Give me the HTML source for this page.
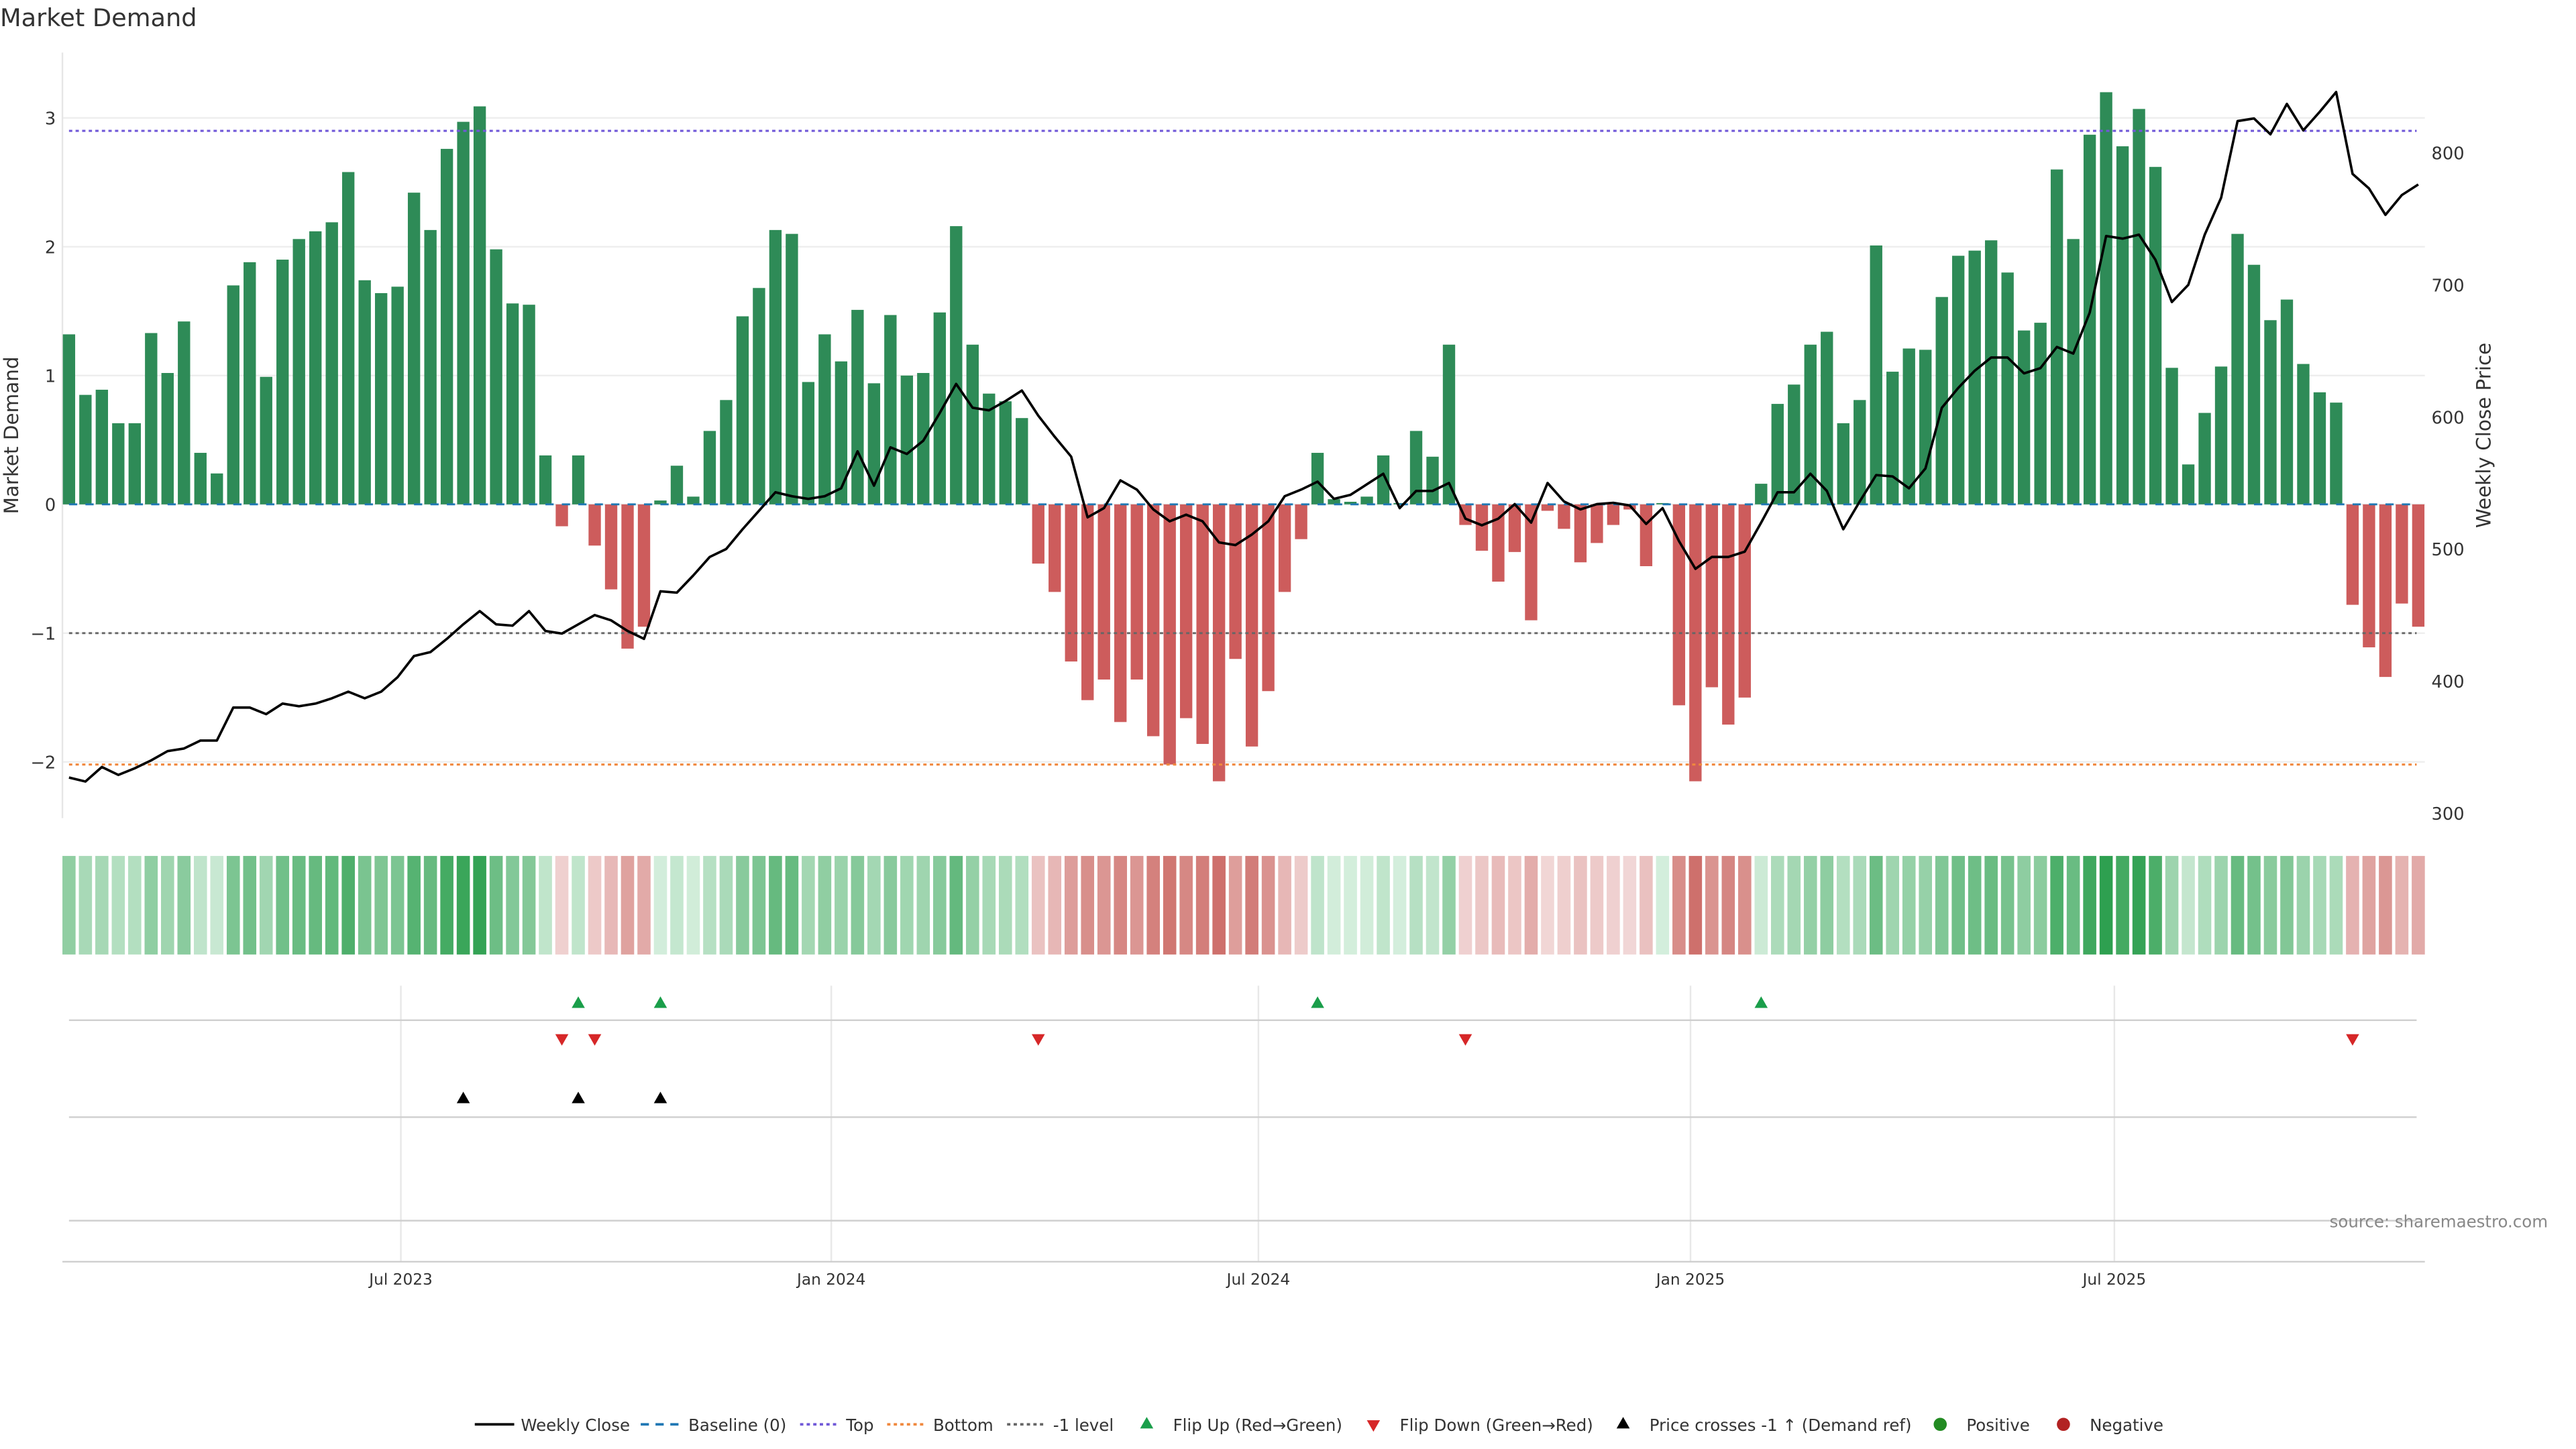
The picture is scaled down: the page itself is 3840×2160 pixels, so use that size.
<!DOCTYPE html>
<html><head><meta charset="utf-8"><style>
html,body{margin:0;padding:0;background:#fff;}
svg{display:block;font-family:"DejaVu Sans","Liberation Sans",sans-serif;}
</style></head><body>
<svg id="chart" width="3840" height="2160" viewBox="0 0 1568 882" preserveAspectRatio="none" xmlns="http://www.w3.org/2000/svg">
<text x="0" y="16" font-size="15" fill="#333">Market Demand</text>
<g id="grid"></g><g id="heat"></g><g id="bars"></g><g id="lines"></g><g id="events"></g><g id="axes"></g><g id="legend"></g>
<text x="1418" y="747" font-size="10" fill="#888">source: sharemaestro.com</text>
</svg>
<script>
const demand=[1.32,0.85,0.89,0.63,0.63,1.33,1.02,1.42,0.40,0.24,1.70,1.88,0.99,1.90,2.06,2.12,2.19,2.58,1.74,1.64,1.69,2.42,2.13,2.76,2.97,3.09,1.98,1.56,1.55,0.38,-0.17,0.38,-0.32,-0.66,-1.12,-0.95,0.03,0.30,0.06,0.57,0.81,1.46,1.68,2.13,2.10,0.95,1.32,1.11,1.51,0.94,1.47,1.00,1.02,1.49,2.16,1.24,0.86,0.80,0.67,-0.46,-0.68,-1.22,-1.52,-1.36,-1.69,-1.36,-1.80,-2.02,-1.66,-1.86,-2.15,-1.20,-1.88,-1.45,-0.68,-0.27,0.40,0.04,0.02,0.06,0.38,0.01,0.57,0.37,1.24,-0.16,-0.36,-0.60,-0.37,-0.90,-0.05,-0.19,-0.45,-0.30,-0.16,-0.04,-0.48,0.01,-1.56,-2.15,-1.42,-1.71,-1.50,0.16,0.78,0.93,1.24,1.34,0.63,0.81,2.01,1.03,1.21,1.20,1.61,1.93,1.97,2.05,1.80,1.35,1.41,2.60,2.06,2.87,3.20,2.78,3.07,2.62,1.06,0.31,0.71,1.07,2.10,1.86,1.43,1.59,1.09,0.87,0.79,-0.78,-1.11,-1.34,-0.77,-0.95];
const price=[327,324,335,329,334,340,347,349,355,355,380,380,375,383,381,383,387,392,387,392,403,419,422,432,443,453,443,442,453,438,436,443,450,446,438,432,468,467,480,494,500,515,529,543,540,538,540,546,574,548,577,572,582,603,625,607,605,612,620,601,585,570,524,531,552,545,530,521,526,521,505,503,511,521,540,545,551,538,541,549,557,531,544,544,550,523,518,523,534,520,550,536,530,534,535,533,519,531,506,485,494,494,498,520,543,543,557,544,515,536,556,555,546,561,607,622,635,645,645,633,637,653,648,679,737,735,738,719,687,700,738,766,824,826,814,837,817,831,846,784,773,753,768,776];
const leftTicks=[3,2,1,0,-1,-2];
const rightTicks=[800,700,600,500,400,300];
const dateTickPos=[20.2,46.4,72.4,98.7,124.5];
const dateTickLabels=["Jul 2023","Jan 2024","Jul 2024","Jan 2025","Jul 2025"];
const levelTop=[2.9], levelBottom=[-2.02], levelMinus1=[-1];
const flipUp=[31,36,76,103];
const flipDown=[30,32,59,85,139];
const priceCross=[24,31,36];

const NS="http://www.w3.org/2000/svg";
const X0=38,X1=1476,Y0=32,Y1=498;
const xOf=i=>42+i*10.0;
const yL=v=>307-v*78.4;
const yR=p=>495-(p-300)*0.804;
function mk(parent,tag,attrs,name){const e=document.createElementNS(NS,tag);for(const k in attrs)e.setAttribute(k,attrs[k]);


document.getElementById(parent).appendChild(e);return e;}
leftTicks.forEach(t=>{mk('grid','line',{x1:X0,x2:X1,y1:yL(t),y2:yL(t),stroke:'#eeeeee','stroke-width':1},'y-gridline');
 const tx=mk('axes','text',{x:34,y:yL(t)+4,'font-size':10.5,fill:'#333','text-anchor':'end'},'y-tick-label');tx.textContent=t<0?'\u2212'+(-t):String(t);});
rightTicks.forEach(t=>{const tx=mk('axes','text',{x:1480,y:yR(t)+4,'font-size':10.5,fill:'#333'},'y2-tick-label');tx.textContent=t;});
mk('grid','line',{x1:X0,x2:X0,y1:Y0,y2:Y1,stroke:'#e6e6e6','stroke-width':1},'left-spine');
dateTickPos.forEach((d,k)=>{const x=xOf(d);
 mk('grid','line',{x1:x,x2:x,y1:600,y2:768,stroke:'#e8e8e8','stroke-width':1},'x-gridline');
 const tx=mk('axes','text',{x:x,y:782,'font-size':9.5,fill:'#333','text-anchor':'middle'},'x-tick-label');tx.textContent=dateTickLabels[k];});
let t1=mk('axes','text',{x:0,y:0,'font-size':12,fill:'#333','text-anchor':'middle',transform:'translate(11,265) rotate(-90)'},'y-axis-title');t1.textContent='Market Demand';
let t2=mk('axes','text',{x:0,y:0,'font-size':12,fill:'#333','text-anchor':'middle',transform:'translate(1516,265) rotate(-90)'},'y2-axis-title');t2.textContent='Weekly Close Price';
[621,680,743].forEach(y=>mk('grid','line',{x1:42,x2:1471,y1:y,y2:y,stroke:'#cfcfcf','stroke-width':1},'event-row-line'));
mk('axes','line',{x1:X0,x2:X1,y1:768,y2:768,stroke:'#cfcfcf','stroke-width':1},'x-axis-line');
demand.forEach((v,i)=>{let a=Math.min(1,Math.abs(v)/3.2),c;
 if(v>=0){c=`rgb(${Math.round(212-a*(212-46))},${Math.round(238-a*(238-160))},${Math.round(220-a*(220-80))})`;}
 else{a=Math.min(1,Math.abs(v)/2.2);c=`rgb(${Math.round(242-a*(242-205))},${Math.round(216-a*(216-110))},${Math.round(216-a*(216-105))})`;}
 mk('heat','rect',{x:xOf(i)-4,y:521,width:8,height:60,fill:c},'heat-cell');});
demand.forEach((v,i)=>{const y=Math.min(yL(v),yL(0)),h=Math.abs(yL(v)-yL(0));
 mk('bars','rect',{x:xOf(i)-3.75,y:y,width:7.5,height:Math.max(h,0.6),fill:v>=0?'#2e8b57':'#cd5c5c'},'demand-bar');});
mk('lines','line',{x1:42,x2:1471,y1:yL(0),y2:yL(0),stroke:'#1f77b4','stroke-width':1.2,'stroke-dasharray':'5 5'},'baseline-zero');
mk('lines','line',{x1:42,x2:1471,y1:yL(levelTop[0]),y2:yL(levelTop[0]),stroke:'#7058d8','stroke-width':1.3,'stroke-dasharray':'2 2'},'top-level-line');
mk('lines','line',{x1:42,x2:1471,y1:yL(levelMinus1[0]),y2:yL(levelMinus1[0]),stroke:'#666','stroke-width':1.2,'stroke-dasharray':'2 2'},'minus-one-level-line');
mk('lines','line',{x1:42,x2:1471,y1:yL(levelBottom[0]),y2:yL(levelBottom[0]),stroke:'#f0883e','stroke-width':1.3,'stroke-dasharray':'2 2'},'bottom-level-line');
mk('lines','polyline',{points:price.map((p,i)=>xOf(i)+','+yR(p)).join(' '),fill:'none',stroke:'#000','stroke-width':1.5,'stroke-linejoin':'round'},'weekly-close-line');
const tri=(x,y,up)=>up?`${x-4},${y+3.5} ${x+4},${y+3.5} ${x},${y-3.5}`:`${x-4},${y-3.5} ${x+4},${y-3.5} ${x},${y+3.5}`;
flipUp.forEach(i=>mk('events','polygon',{points:tri(xOf(i),610,true),fill:'#1a9e4a'},'flip-up-marker'));
flipDown.forEach(i=>mk('events','polygon',{points:tri(xOf(i),633,false),fill:'#d62728'},'flip-down-marker'));
priceCross.forEach(i=>mk('events','polygon',{points:tri(xOf(i),668,true),fill:'#000'},'price-cross-marker'));
const L=867;
mk('legend','line',{x1:289,x2:313,y1:L,y2:L,stroke:'#000','stroke-width':1.5},'legend-weekly-close-swatch');
mk('legend','line',{x1:390,x2:414,y1:L,y2:L,stroke:'#1f77b4','stroke-width':1.5,'stroke-dasharray':'5 4'},'legend-baseline-swatch');
mk('legend','line',{x1:487,x2:510,y1:L,y2:L,stroke:'#7058d8','stroke-width':1.5,'stroke-dasharray':'2 2'},'legend-top-swatch');
mk('legend','line',{x1:540,x2:563,y1:L,y2:L,stroke:'#f0883e','stroke-width':1.5,'stroke-dasharray':'2 2'},'legend-bottom-swatch');
mk('legend','line',{x1:613,x2:636,y1:L,y2:L,stroke:'#666','stroke-width':1.5,'stroke-dasharray':'2 2'},'legend-minus-one-swatch');
mk('legend','polygon',{points:tri(698,L-1,true),fill:'#1a9e4a'},'legend-flip-up-swatch');
mk('legend','polygon',{points:tri(836,L+1,false),fill:'#d62728'},'legend-flip-down-swatch');
mk('legend','polygon',{points:tri(988,L-1,true),fill:'#000'},'legend-price-cross-swatch');
mk('legend','circle',{cx:1181,cy:L,r:4,fill:'#228b22'},'legend-positive-swatch');
mk('legend','circle',{cx:1256,cy:L,r:4,fill:'#b22222'},'legend-negative-swatch');
[[317,'Weekly Close','legend-weekly-close'],[419,'Baseline (0)','legend-baseline'],[515,'Top','legend-top'],[568,'Bottom','legend-bottom'],[641,'-1 level','legend-minus-one'],[714,'Flip Up (Red\u2192Green)','legend-flip-up'],[852,'Flip Down (Green\u2192Red)','legend-flip-down'],[1004,'Price crosses -1 \u2191 (Demand ref)','legend-price-cross'],[1197,'Positive','legend-positive'],[1272,'Negative','legend-negative']].forEach(a=>{
 const t=mk('legend','text',{x:a[0],y:L+4,'font-size':10,fill:'#333'},a[2]);t.textContent=a[1];});
</script>
</body></html>
